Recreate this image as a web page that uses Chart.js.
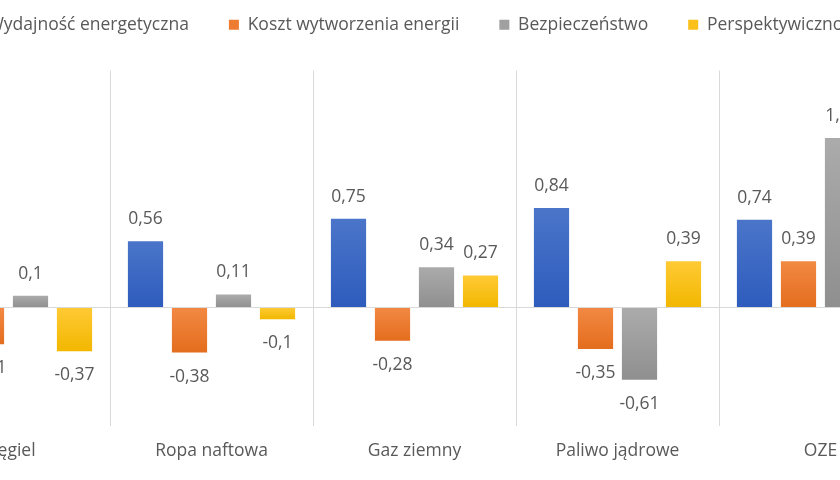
<!DOCTYPE html>
<html>
<head>
<meta charset="utf-8">
<script src="https://cdn.jsdelivr.net/npm/chart.js@4"></script>
<style>
  html, body { margin: 0; padding: 0; background: #fff; overflow: hidden; }
  body { width: 840px; height: 480px; position: relative; }
  #wrap { position: absolute; left: -130px; top: 0; width: 1090px; height: 480px; }
</style>
</head>
<body>
<div id="wrap"><canvas id="chart"></canvas></div>
<script>
// Data (the picture is cropped at both sides, hidden values are estimates)
const categories = ['Węgiel', 'Ropa naftowa', 'Gaz ziemny', 'Paliwo jądrowe', 'OZE'];
const seriesNames = ['Wydajność energetyczna', 'Koszt wytworzenia energii', 'Bezpieczeństwo', 'Perspektywiczność'];
const wydajnosc = [0.48, 0.56, 0.75, 0.84, 0.74];
const koszt = [-0.31, -0.38, -0.28, -0.35, 0.39];
const bezpieczenstwo = [0.1, 0.11, 0.34, -0.61, 1.43];
const perspektywicznosc = [-0.37, -0.1, 0.27, 0.39, 0.8];

// light (top) and dark (bottom) shade of each series
const colorsTop = ['#4a75c9', '#f28943', '#ababab', '#ffca35'];
const colorsBottom = ['#2e5cbd', '#e46d1e', '#8f8f8f', '#f2b700'];
const colors = ['#3c69c2', '#ed7b30', '#a0a0a0', '#fbc11a'];

const FONT = 'Open Sans';
const TEXT_COLOR = '#595959';

// Vertical gradient for each bar, taken from the y scale
function barGradient(i) {
    return function(context) {
        const chart = context.chart;
        const y = chart.scales.y;
        if (!y || context.dataIndex === undefined) return colors[i];
        const v = context.raw;
        const top = y.getPixelForValue(Math.max(v, 0));
        const bottom = y.getPixelForValue(Math.min(v, 0));
        if (!isFinite(top) || !isFinite(bottom) || top === bottom) return colors[i];
        const g = chart.ctx.createLinearGradient(0, top, 0, bottom);
        g.addColorStop(0, colorsTop[i]);
        g.addColorStop(1, colorsBottom[i]);
        return g;
    };
}

// Value labels above / below bars, Polish decimal comma
const valueLabels = {
    id: 'valueLabels',
    afterDatasetsDraw(chart) {
        const ctx = chart.ctx;
        ctx.save();
        ctx.font = '17.5px "' + FONT + '"';
        ctx.fillStyle = TEXT_COLOR;
        ctx.textAlign = 'center';
        ctx.textBaseline = 'middle';
        chart.data.datasets.forEach((ds, i) => {
            const meta = chart.getDatasetMeta(i);
            meta.data.forEach((bar, j) => {
                const v = ds.data[j];
                const txt = String(v).replace('.', ',');
                const y = v >= 0 ? bar.y - 22 : bar.y + 24;
                ctx.fillText(txt, bar.x, y);
            });
        });
        ctx.restore();
    }
};

// Extra room between legend and plot
const legendGap = {
    id: 'legendGap',
    beforeInit(chart) {
        const fit = chart.legend.fit;
        chart.legend.fit = function() {
            fit.bind(chart.legend)();
            this.height += 27;
        };
    }
};

const ctx = document.getElementById('chart').getContext('2d');
new Chart(ctx, {
    type: 'bar',
    data: {
        labels: categories,
        datasets: [wydajnosc, koszt, bezpieczenstwo, perspektywicznosc].map((d, i) => ({
            label: seriesNames[i],
            data: d,
            backgroundColor: barGradient(i),
            borderWidth: 0,
            categoryPercentage: 0.867,
            barPercentage: 0.8
        }))
    },
    options: {
        responsive: true,
        maintainAspectRatio: false,
        animation: false,
        layout: { padding: { left: 37, right: 38, top: -24, bottom: 3 } },
        plugins: {
            legend: {
                position: 'top',
                labels: {
                    font: { family: FONT, size: 17.5 },
                    color: TEXT_COLOR,
                    boxWidth: 10,
                    boxHeight: 10,
                    padding: 40,
                    generateLabels(chart) {
                        return chart.data.datasets.map((ds, i) => ({
                            text: ds.label,
                            fillStyle: colors[i],
                            strokeStyle: colors[i],
                            lineWidth: 0,
                            fontColor: TEXT_COLOR,
                            datasetIndex: i
                        }));
                    }
                }
            },
            tooltip: { enabled: false }
        },
        scales: {
            x: {
                grid: {
                    offset: true,
                    color: '#d9d9d9',
                    drawTicks: false
                },
                border: { display: false },
                ticks: {
                    font: { family: FONT, size: 17.5 },
                    color: TEXT_COLOR,
                    padding: 15
                }
            },
            y: {
                min: -1,
                max: 2,
                ticks: { display: false, stepSize: 1 },
                grid: {
                    drawTicks: false,
                    color: c => c.tick && c.tick.value === 0 ? '#d9d9d9' : 'rgba(0,0,0,0)'
                },
                border: { display: false }
            }
        }
    },
    plugins: [valueLabels, legendGap]
});
</script>
</body>
</html>
